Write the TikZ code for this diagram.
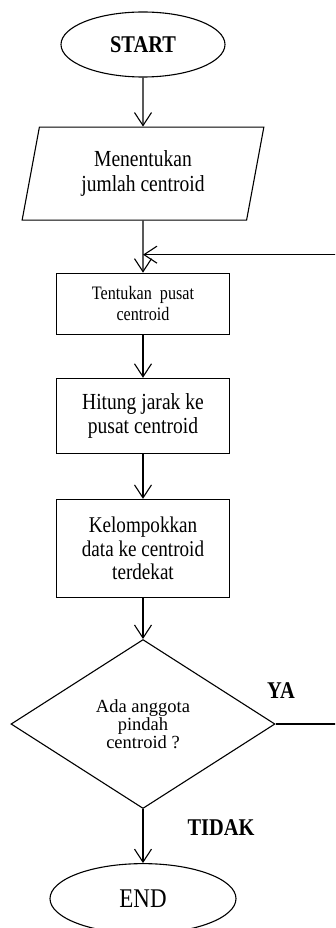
\documentclass[tikz,border=0pt]{standalone}
\usepackage{fontspec}
\setmainfont{Liberation Serif}[FakeStretch=0.85]
\newfontfamily\plainfont{Liberation Serif}
\usepackage{tikz}
\usetikzlibrary{shapes.geometric,arrows.meta,positioning}

\begin{document}
\begin{tikzpicture}[
  x=1pt, y=-1pt,
  line width=1.1pt,
  term/.style ={draw,ellipse,minimum width=164pt,minimum height=65pt,inner sep=1pt},
  inp/.style  ={draw,trapezium,trapezium left angle=78,trapezium right angle=102,
                trapezium stretches=true,
                minimum width=242pt,minimum height=93pt,align=center,inner sep=2pt,
                font=\fontsize{23}{25}\selectfont},
  proc/.style ={draw,rectangle,minimum width=173pt,align=center,inner sep=2pt,
                font=\fontsize{23}{24}\selectfont},
  dec/.style  ={draw,diamond,minimum width=264pt,minimum height=169pt,align=center,
                inner sep=1pt,font=\plainfont\fontsize{18.5}{16.5}\selectfont},
  lbl/.style  ={font=\fontsize{24}{24}\selectfont\bfseries,inner sep=0pt},
  >={Straight Barb[length=13pt,width=17pt]}]

\useasboundingbox (0,0) rectangle (335,928);
\clip (0,0) rectangle (335,928);

% ---------- main column ----------
\node[term,font=\fontsize{24}{24}\selectfont\bfseries] (start) at (143,44.5) {START};
\node[inp, below=49pt of start] (jml) {Menentukan\\jumlah centroid};
\node[proc, below=52pt of jml, minimum height=61pt,
      font=\fontsize{19}{21}\selectfont] (pusat) {Tentukan\ \ pusat\\centroid};
\node[proc, below=43pt of pusat, minimum height=75pt] (jarak) {Hitung jarak ke\\pusat centroid};
\node[proc, below=45pt of jarak, minimum height=98pt,
      font=\fontsize{22.5}{23.5}\selectfont] (kel) {Kelompokkan\\data ke centroid\\terdekat};
\node[dec, below=41pt of kel] (cek) {Ada anggota\\pindah\\centroid ?};
\node[term, below=54pt of cek, minimum width=186pt, minimum height=70pt,
      font=\fontsize{27}{27}\selectfont] (end) {END};

\draw[->] (start) -- (jml);
\draw[->] (jml) -- (pusat);
\draw[->] (pusat) -- (jarak);
\draw[->] (jarak) -- (kel);
\draw[->] (kel) -- (cek);
\draw[->] (cek) -- (end);

% ---------- loop back ----------
\coordinate[above=18pt of pusat] (back);
\draw[->] (cek.east) -- ++(70,0) |- (back);

\node[lbl] (ya) at (281,691) {YA};
\node[lbl] (tidak) at (221,828) {TIDAK};

\end{tikzpicture}
\end{document}
